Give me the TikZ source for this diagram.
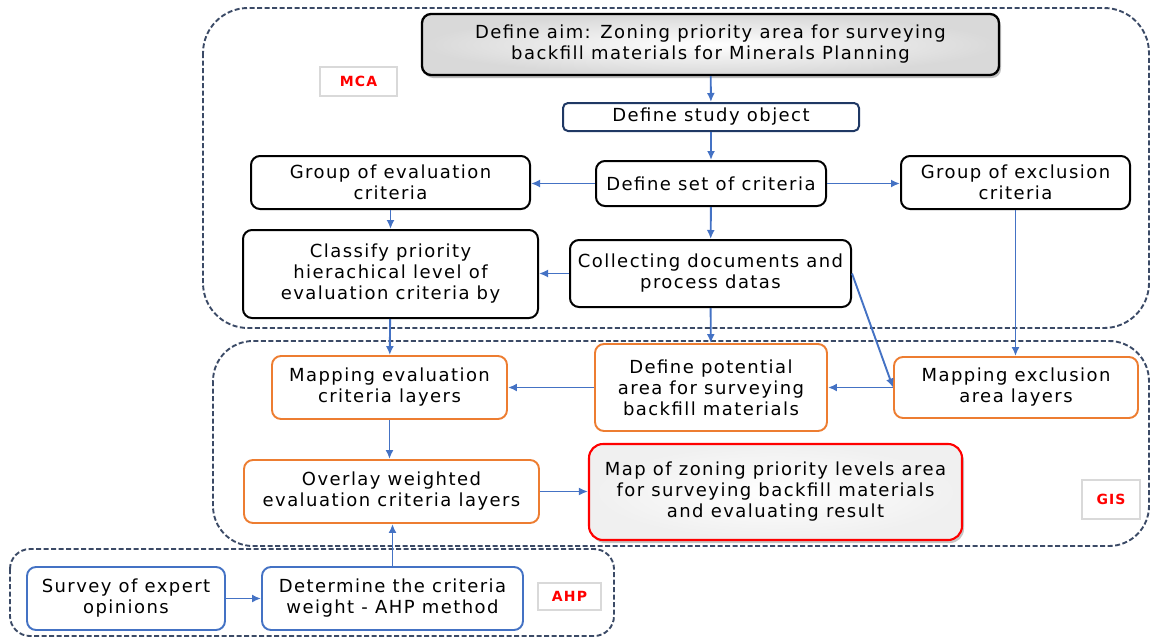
\documentclass[tikz,border=0pt]{standalone}
\usepackage{fontspec}
\setmainfont[LetterSpace=8]{DejaVu Sans}
\usetikzlibrary{arrows.meta,shadows}
\definecolor{linkblue}{HTML}{4472C4}
\definecolor{framenavy}{HTML}{3B4A66}
\definecolor{gisorange}{HTML}{ED7D31}
\definecolor{objnavy}{HTML}{1F3864}
\definecolor{ahpblue}{HTML}{4472C4}
\definecolor{tagred}{HTML}{FF0000}

\begin{document}
\begin{tikzpicture}[x=1pt,y=-1pt,
  stepbox/.style={draw=black, line width=2pt, rounded corners=9pt, align=center,
    font=\fontsize{18}{21}\selectfont, inner sep=0pt, fill=white},
  gisbox/.style={stepbox, draw=gisorange, line width=1.9pt},
  ahpbox/.style={stepbox, draw=ahpblue, line width=1.9pt},
  tagbox/.style={draw=gray!30, line width=1.3pt, fill=white, text=tagred,
    font=\fontsize{14}{16}\selectfont\bfseries, inner sep=0pt},
  zone/.style={draw=framenavy, line width=1.9pt, dash pattern=on 5pt off 2.5pt},
  link/.style={draw=linkblue, line width=1.9pt, -{Latex[length=9pt,width=8pt]}},
]
\useasboundingbox (0,0) rectangle (1151,637);

% dashed method zones
\draw[zone, rounded corners=45pt] (203,8) rectangle (1149,328);
\draw[zone, rounded corners=40pt] (213,341) rectangle (1149,546);
\draw[zone, rounded corners=20pt] (10,549) rectangle (614,636);

% zone tags
\node[tagbox, minimum width=77pt, minimum height=29pt] (mca) at (358.5,81.5) {MCA};
\node[tagbox, minimum width=58pt, minimum height=39pt] (gis) at (1111,499.5) {GIS};
\node[tagbox, minimum width=63pt, minimum height=27pt] (ahp) at (569.5,596.5) {AHP};

% MCA steps
\node[stepbox, line width=2.3pt, minimum width=577pt, minimum height=61pt,
  inner color=white, outer color=gray!30, drop shadow={shadow xshift=2pt, shadow yshift=-3pt, opacity=0.5}]
  (aim) at (710.5,44.5) {Define aim: Zoning priority area for surveying\\backfill materials for Minerals Planning};
\node[stepbox, draw=objnavy, rounded corners=5pt, minimum width=296pt, minimum height=28pt]
  (study) at (711,117) {Define study object};
\node[stepbox, minimum width=230pt, minimum height=45pt] (set) at (711,183.5) {Define set of criteria};
\node[stepbox, minimum width=279pt, minimum height=53pt] (evalgrp) at (390.5,182.5) {Group of evaluation\\criteria};
\node[stepbox, minimum width=229pt, minimum height=53pt] (exclgrp) at (1015.5,182.5) {Group of exclusion\\criteria};
\node[stepbox, minimum width=295pt, minimum height=88pt] (classify) at (390.5,274) {Classify priority\\hierachical level of\\evaluation criteria by};
\node[stepbox, minimum width=281pt, minimum height=67pt] (collect) at (710.5,273.5) {Collecting documents and\\process datas};

% GIS steps
\node[gisbox, minimum width=235pt, minimum height=63pt] (mapeval) at (389.5,387.5) {Mapping evaluation\\criteria layers};
\node[gisbox, minimum width=232pt, minimum height=87pt] (potential) at (711,387.5) {Define potential\\area for surveying\\backfill materials};
\node[gisbox, minimum width=244pt, minimum height=61pt] (mapexcl) at (1016,387.5) {Mapping exclusion\\area layers};
\node[gisbox, minimum width=295pt, minimum height=63pt] (overlay) at (391.5,491.5) {Overlay weighted\\evaluation criteria layers};
\node[stepbox, draw=red, line width=2.1pt, rounded corners=14pt, minimum width=373pt, minimum height=96pt,
  inner color=white, outer color=gray!12, drop shadow={shadow xshift=2pt, shadow yshift=-3pt, opacity=0.45}]
  (result) at (775.5,492) {Map of zoning priority levels area\\for surveying backfill materials\\and evaluating result};

% AHP steps
\node[ahpbox, minimum width=198pt, minimum height=63pt] (survey) at (126,598.5) {Survey of expert\\opinions};
\node[ahpbox, minimum width=261pt, minimum height=63pt] (weight) at (392.5,598.5) {Determine the criteria\\weight - AHP method};

% connectors
\draw[link] (aim) -- (study);
\draw[link] (study) -- (set);
\draw[link] (set.west) -- (evalgrp.east |- set.west);
\draw[link] (set.east) -- (exclgrp.west |- set.east);
\draw[link] (set) -- (collect);
\draw[link] (evalgrp) -- (classify);
\draw[link] (collect) -- (classify.east |- collect.west);
\draw[link] (collect) -- (potential);
\draw[link] (collect.east) -- (mapexcl.west);
\draw[link] (exclgrp.south) -- (exclgrp.south |- mapexcl.north);
\draw[link] (mapexcl) -- (potential);
\draw[link] (potential) -- (mapeval);
\draw[link] (classify) -- (mapeval);
\draw[link] (mapeval) -- (overlay.north -| mapeval.south);
\draw[link] (overlay.east) -- (result.west |- overlay.east);
\draw[link] (weight) -- (overlay.south -| weight.north);
\draw[link] (survey) -- (weight);
\end{tikzpicture}
\end{document}
